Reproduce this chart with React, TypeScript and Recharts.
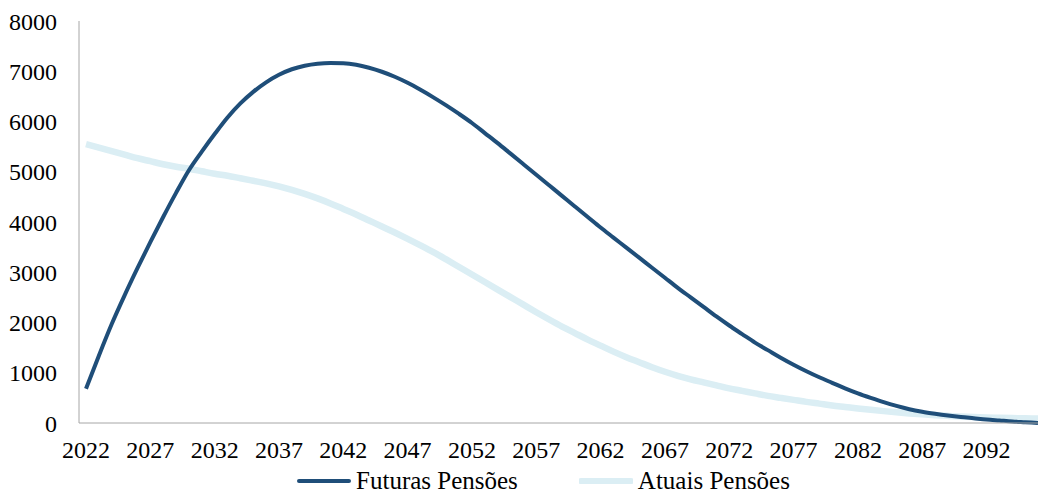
import React from 'react';
import { LineChart, Line, XAxis, YAxis, Legend } from 'recharts';

const years: number[] = [];
for (let y = 2022; y <= 2096; y++) years.push(y);

// Futuras Pensões (dark line)
const futuras = [
  680, 1340, 1970, 2540, 3080, 3600, 4100, 4580, 5030, 5400,
  5750, 6080, 6360, 6590, 6780, 6930, 7040, 7110, 7150, 7165,
  7160, 7130, 7070, 6990, 6890, 6770, 6630, 6480, 6320, 6150,
  5970, 5770, 5570, 5360, 5150, 4940, 4730, 4520, 4310, 4100,
  3890, 3690, 3490, 3290, 3090, 2890, 2690, 2500, 2310, 2120,
  1940, 1770, 1600, 1450, 1300, 1160, 1030, 910, 800, 690,
  590, 500, 415, 340, 275, 225, 185, 150, 120, 95,
  70, 50, 30, 15, 0,
];

// Atuais Pensões (light line)
const atuais = [
  5550, 5480, 5410, 5340, 5270, 5210, 5150, 5100, 5060, 5010,
  4960, 4920, 4870, 4820, 4770, 4710, 4640, 4560, 4470, 4370,
  4260, 4150, 4030, 3910, 3790, 3665, 3535, 3400, 3255, 3105,
  2955, 2805, 2655, 2505, 2355, 2205, 2060, 1920, 1790, 1660,
  1540, 1420, 1310, 1210, 1110, 1020, 940, 870, 810, 750,
  690, 640, 590, 540, 500, 460, 420, 385, 350, 320,
  290, 262, 236, 212, 190, 172, 156, 142, 130, 120,
  110, 104, 98, 93, 88,
];

const yTicks = [0, 1000, 2000, 3000, 4000, 5000, 6000, 7000, 8000];
const legendOrder = ['futuras', 'atuais'];

const data = years.map((y, i) => ({ year: String(y), futuras: futuras[i], atuais: atuais[i] }));

const FONT = '"Liberation Serif", "Times New Roman", serif';

const renderLegend = (props: any) => {
  const payload = [...(props.payload || [])].sort(
    (a: any, b: any) => legendOrder.indexOf(a.dataKey) - legendOrder.indexOf(b.dataKey)
  );
  return (
    <div style={{ display: 'flex', justifyContent: 'center', gap: 61, paddingLeft: 49, paddingTop: 12, fontFamily: FONT, fontSize: 25, color: '#000' }}>
      {payload.map((entry: any) => (
        <div key={entry.value} style={{ display: 'flex', alignItems: 'center' }}>
          <svg width={54} height={10} style={{ marginRight: 5 }}>
            <line x1={2} y1={5} x2={52} y2={5} stroke={entry.color} strokeWidth={entry.dataKey === 'atuais' ? 6 : 4} strokeLinecap="round" />
          </svg>
          <span>{entry.value}</span>
        </div>
      ))}
    </div>
  );
};

const App: React.FC = () => {
  return (
    <div style={{ position: 'absolute', left: 0, top: 0, width: 1038, height: 495, overflow: 'hidden', background: '#fff' }}>
      <LineChart width={1038} height={495} data={data} margin={{ top: 21, right: 0, bottom: 0, left: 0 }}>
        <XAxis
          dataKey="year"
          interval={4}
          padding={{ left: 7, right: 0 }}
          tickLine={false}
          tickSize={0}
          tickMargin={18}
          height={32}
          stroke="#a6a6a6"
          tick={{ fontSize: 24, fill: '#000', fontFamily: FONT }}
        />
        <YAxis
          domain={[0, 8000]}
          ticks={yTicks}
          width={79}
          tickLine={false}
          tickSize={0}
          tickMargin={22}
          stroke="#a6a6a6"
          tick={{ fontSize: 24, fill: '#000', fontFamily: FONT }}
        />
        <Legend verticalAlign="bottom" height={40} content={renderLegend} />
        <Line type="monotone" dataKey="atuais" name="Atuais Pensões" stroke="#dbeef4" strokeWidth={6.5} dot={false} isAnimationActive={false} />
        <Line type="monotone" dataKey="futuras" name="Futuras Pensões" stroke="#1f4e79" strokeWidth={4} dot={false} isAnimationActive={false} />
      </LineChart>
    </div>
  );
};

export default App;
